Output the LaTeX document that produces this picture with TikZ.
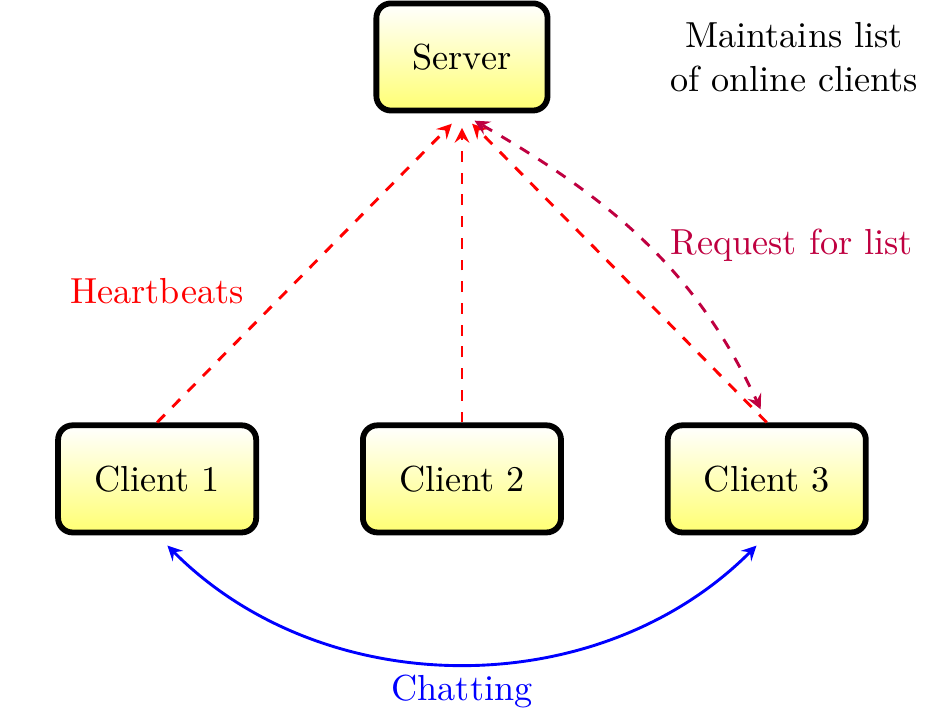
\documentclass[tikz,border=0pt]{standalone}
\usepackage{tikz}
\usetikzlibrary{arrows, positioning}
\tikzstyle{box} = [draw=black, ultra thick, rounded corners, top color=white, bottom color=yellow!55, inner xsep=1em, minimum height=1.04cm]
\tikzstyle{beat} = [red, thick, dashed, ->, >=stealth, shorten >=4pt]

\begin{document}
\begin{tikzpicture}[
    node distance=3.0cm,
    req/.style={purple, thick, dashed, <->, >=stealth, shorten <=4pt, shorten >=4pt},
    chat/.style={blue, thick, <->, >=stealth, shorten <=4pt, shorten >=4pt}
]
\useasboundingbox (0,0) rectangle (9.194,-6.932);

% Nodes
\node (server) [box] at (4.485,-0.553) {Server};
\node (client2) [box, below=of server] {Client 2};
\node (client1) [box, left=0.98cm of client2] {Client 1};
\node (client3) [box, right=0.98cm of client2] {Client 3};
\node (note) [right=1.04cm of server, align=center] {Maintains list\\of online clients};

% Arrows
\draw [beat] (client1.north) -- node[pos=0.34, above left, xshift=-1pt] {Heartbeats} (server.south);
\draw [beat] (client2.north) -- (server.south);
\draw [beat] (client3.north) -- (server.south);
\draw [req] (server.south) to[out=-30, in=115] node[pos=0.5, right=4pt, yshift=-1pt] {Request for list} (client3.north);
\draw [chat] (client1.south) to[bend right=45] node[below] {Chatting} (client3.south);

\end{tikzpicture}
\end{document}
